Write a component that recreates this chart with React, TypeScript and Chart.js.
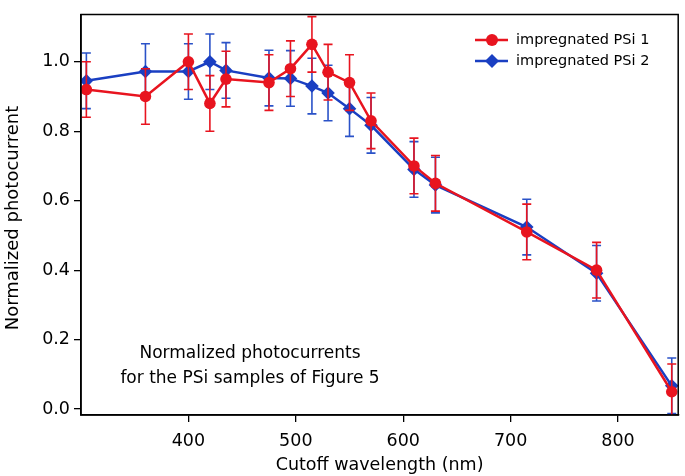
import React, { useEffect, useRef } from "react";
import { Chart, registerables } from "chart.js";

Chart.register(...registerables);

const wavelengths = [305, 360, 400, 420, 435, 475, 495, 515, 530, 550, 570, 610, 630, 715, 780, 850];
const psi1 = [0.92, 0.9, 1.0, 0.88, 0.95, 0.94, 0.98, 1.05, 0.97, 0.94, 0.83, 0.7, 0.65, 0.51, 0.4, 0.05];
const psi1Err = [0.08, 0.08, 0.08, 0.08, 0.08, 0.08, 0.08, 0.08, 0.08, 0.08, 0.08, 0.08, 0.08, 0.08, 0.08, 0.08];
const psi2 = [0.945, 0.972, 0.972, 1.0, 0.975, 0.953, 0.952, 0.93, 0.91, 0.865, 0.817, 0.69, 0.645, 0.524, 0.391, 0.067];
const psi2Err = [0.08, 0.08, 0.08, 0.08, 0.08, 0.08, 0.08, 0.08, 0.08, 0.08, 0.08, 0.08, 0.08, 0.08, 0.08, 0.08];
const xTicks = [400, 500, 600, 700, 800];
const yTicks = [0, 0.2, 0.4, 0.6, 0.8, 1.0];
const seriesNames = ["impregnated PSi 1", "impregnated PSi 2"];
const xTitle = "Cutoff wavelength (nm)";
const yTitle = "Normalized photocurrent";
const noteLines = ["Normalized photocurrents", "for the PSi samples of Figure 5"];

const RED = "#e8141f";
const BLUE = "#1a3fc2";
const FONT = "DejaVu Sans";

const errors = [psi1Err, psi2Err];
const errColors = [RED, "#2a52c8"];

const errorBarPlugin = {
  id: "errorBars",
  beforeDatasetDraw(chart: any, args: any) {
    const i = args.index;
    const ds = chart.data.datasets[i];
    const xs = chart.scales.x;
    const ys = chart.scales.y;
    const ctx = chart.ctx;
    const area = chart.chartArea;
    ctx.save();
    ctx.beginPath();
    ctx.rect(area.left, area.top, area.right - area.left, area.bottom - area.top);
    ctx.clip();
    ctx.strokeStyle = errColors[i];
    ctx.lineWidth = 1.6;
    ds.data.forEach((p: any, k: number) => {
      const e = errors[i][k];
      const x = xs.getPixelForValue(p.x);
      const y1 = ys.getPixelForValue(p.y + e);
      const y2 = ys.getPixelForValue(p.y - e);
      ctx.beginPath();
      ctx.moveTo(x, y1);
      ctx.lineTo(x, y2);
      ctx.moveTo(x - 4.5, y1);
      ctx.lineTo(x + 4.5, y1);
      ctx.moveTo(x - 4.5, y2);
      ctx.lineTo(x + 4.5, y2);
      ctx.stroke();
    });
    ctx.restore();
  },
};

const decorPlugin = {
  id: "decor",
  afterDraw(chart: any) {
    const ctx = chart.ctx;
    const a = chart.chartArea;
    ctx.save();
    // frame
    ctx.strokeStyle = "#000";
    ctx.lineWidth = 1.5;
    ctx.strokeRect(a.left, a.top, a.right - a.left, a.bottom - a.top);
    // y title
    ctx.fillStyle = "#000";
    ctx.font = `18px "${FONT}"`;
    ctx.textAlign = "center";
    ctx.textBaseline = "middle";
    ctx.save();
    ctx.translate(13, 218);
    ctx.rotate(-Math.PI / 2);
    ctx.fillText(yTitle, 0, 0);
    ctx.restore();
    // note
    ctx.font = `17px "${FONT}"`;
    ctx.textBaseline = "alphabetic";
    ctx.fillText(noteLines[0], 250, 358);
    ctx.fillText(noteLines[1], 250, 383);
    // legend
    const rows = [
      { y: 40, color: RED, style: "circle", r: 6 },
      { y: 61, color: BLUE, style: "rectRot", r: 7 },
    ];
    rows.forEach((row, i) => {
      ctx.strokeStyle = row.color;
      ctx.lineWidth = 2.5;
      ctx.beginPath();
      ctx.moveTo(475, row.y);
      ctx.lineTo(508, row.y);
      ctx.stroke();
      ctx.fillStyle = row.color;
      ctx.beginPath();
      if (row.style === "circle") {
        ctx.arc(492, row.y, row.r, 0, Math.PI * 2);
      } else {
        ctx.moveTo(492 - row.r, row.y);
        ctx.lineTo(492, row.y - row.r);
        ctx.lineTo(492 + row.r, row.y);
        ctx.lineTo(492, row.y + row.r);
        ctx.closePath();
      }
      ctx.fill();
      ctx.fillStyle = "#000";
      ctx.font = `14.5px "${FONT}"`;
      ctx.textAlign = "left";
      ctx.textBaseline = "middle";
      ctx.fillText(seriesNames[i], 516, row.y + 0.5);
    });
    ctx.restore();
  },
};

export default function App() {
  const ref = useRef<HTMLCanvasElement>(null);
  useEffect(() => {
    if (!ref.current) return;
    const tickFont = { family: FONT, size: 17.5 };
    const chart = new Chart(ref.current, {
      type: "scatter",
      data: {
        datasets: [
          {
            label: seriesNames[0],
            data: wavelengths.map((x, i) => ({ x, y: psi1[i] })),
            showLine: true,
            borderColor: RED,
            backgroundColor: RED,
            borderWidth: 2.5,
            pointStyle: "circle",
            pointRadius: 5.8,
            pointBorderWidth: 0,
            pointBackgroundColor: RED,
          },
          {
            label: seriesNames[1],
            data: wavelengths.map((x, i) => ({ x, y: psi2[i] })),
            showLine: true,
            borderColor: BLUE,
            backgroundColor: BLUE,
            borderWidth: 2.5,
            pointStyle: "rectRot",
            pointRadius: 6.8,
            pointBorderWidth: 0,
            pointBackgroundColor: BLUE,
          },
        ],
      },
      options: {
        animation: false,
        responsive: false,
        devicePixelRatio: 1,
        layout: { padding: { top: 5, right: 4, left: 0, bottom: 0 } },
        plugins: { legend: { display: false }, tooltip: { enabled: false } },
        scales: {
          x: {
            type: "linear",
            min: 300,
            max: 856,
            afterBuildTicks: (s: any) => {
              s.ticks = xTicks.map((v) => ({ value: v }));
            },
            afterFit: (s: any) => {
              s.height = 61;
            },
            ticks: {
              font: tickFont,
              color: "#000",
              padding: 9,
              maxRotation: 0,
              autoSkip: false,
              callback: (v: any) => String(v),
            },
            grid: { drawOnChartArea: false, drawTicks: true, tickLength: 7, color: "#000", lineWidth: 1.3 },
            border: { display: true, color: "#000", width: 1.5 },
            title: {
              display: true,
              text: xTitle,
              color: "#000",
              font: { family: FONT, size: 17.5 },
              padding: { top: 0, bottom: 0 },
            },
          },
          y: {
            type: "linear",
            min: -0.017,
            max: 1.136,
            afterBuildTicks: (s: any) => {
              s.ticks = yTicks.map((v) => ({ value: v }));
            },
            afterFit: (s: any) => {
              s.width = 81;
            },
            ticks: {
              font: tickFont,
              color: "#000",
              padding: 4,
              autoSkip: false,
              callback: (v: any) => Number(v).toFixed(1),
            },
            grid: { drawOnChartArea: false, drawTicks: true, tickLength: 7, color: "#000", lineWidth: 1.3 },
            border: { display: true, color: "#000", width: 1.5 },
          },
        },
      },
      plugins: [errorBarPlugin, decorPlugin],
    } as any);
    return () => chart.destroy();
  }, []);
  return (
    <div style={{ position: "absolute", left: 0, top: 0, width: 685, height: 476, background: "#fff" }}>
      <canvas ref={ref} width={685} height={476} style={{ display: "block" }} />
    </div>
  );
}
